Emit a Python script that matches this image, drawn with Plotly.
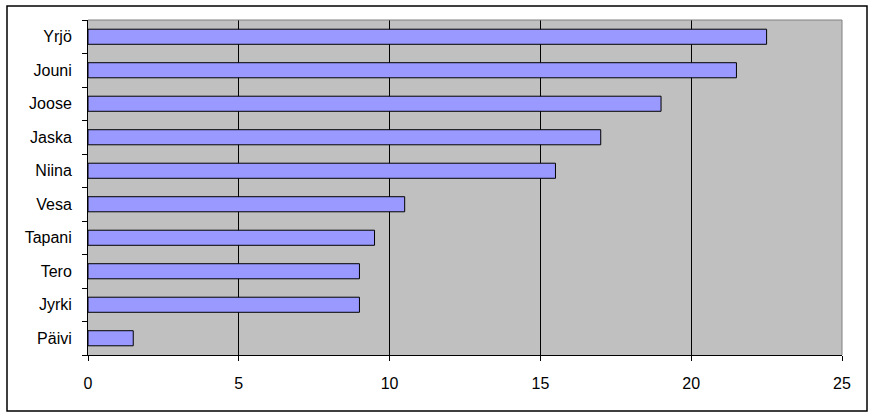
import plotly.graph_objects as go

names = ["Yrjö", "Jouni", "Joose", "Jaska", "Niina", "Vesa", "Tapani", "Tero", "Jyrki", "Päivi"]
values = [22.5, 21.5, 19, 17, 15.5, 10.5, 9.5, 9, 9, 1.5]
x_ticks = [0, 5, 10, 15, 20, 25]

fig = go.Figure()
fig.add_trace(go.Bar(
    y=names, x=values, orientation="h",
    marker=dict(color="#9999FF", line=dict(color="black", width=1)),
))

W, H = 874, 417
L, R, T, B = 88, 32, 20, 62
pw, ph = W - L - R, H - T - B

fig.update_layout(
    width=W, height=H,
    margin=dict(l=L, r=R, t=T, b=B, pad=0, autoexpand=False),
    paper_bgcolor="white", plot_bgcolor="#C0C0C0",
    bargap=0.55, showlegend=False,
    font=dict(family="Liberation Sans, Arial", size=16, color="black"),
    xaxis=dict(range=[0, 25], tickvals=x_ticks, showgrid=True, gridcolor="black", gridwidth=1,
               showline=True, linecolor="black", linewidth=1, ticks="outside", ticklen=5,
               tickcolor="black", zeroline=False, ticklabelstandoff=9, fixedrange=True,
               automargin=False),
    yaxis=dict(categoryorder="array", categoryarray=names[::-1], tickson="boundaries",
               showline=True, linecolor="black", linewidth=1, ticks="outside", ticklen=5,
               tickcolor="black", showgrid=False, ticklabelstandoff=12, fixedrange=True,
               automargin=False),
    shapes=[
        dict(type="line", xref="paper", yref="paper", x0=0, x1=1, y0=1, y1=1,
             line=dict(color="#808080", width=1)),
        dict(type="line", xref="paper", yref="paper", x0=1, x1=1, y0=0, y1=1,
             line=dict(color="#808080", width=1)),
        dict(type="rect", xref="paper", yref="paper",
             x0=(7 - L) / pw, x1=(867 - L) / pw, y0=(H - B - 411) / ph, y1=(H - B - 6) / ph,
             line=dict(color="black", width=1.5)),
    ],
)

fig.write_html("out.html", config={"displayModeBar": False},
               post_script="document.body.style.margin='0';document.body.style.overflow='hidden';")
